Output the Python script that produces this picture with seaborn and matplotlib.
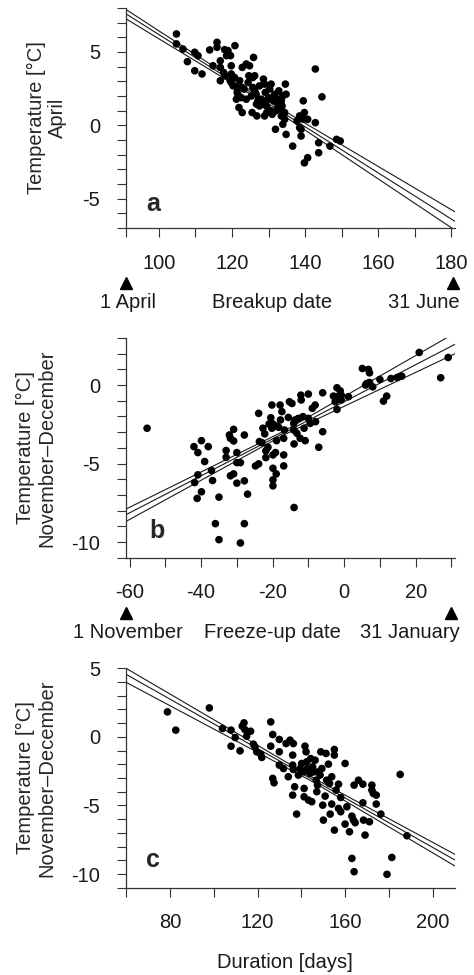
import matplotlib
matplotlib.use("Agg")
import matplotlib.pyplot as plt
import matplotlib.transforms as mtransforms
from matplotlib.ticker import MultipleLocator
import seaborn as sns

# ---------------------------------------------------------------
# data
# ---------------------------------------------------------------
# (a) breakup date (day of year) vs April temperature
breakup_day = [104.8, 104.8, 106.6, 107.8, 109.8, 110.7, 109.8, 111.8, 113.9, 114.8,
               115.9, 115.9, 116.8, 116.8, 116.8, 117.7, 118.0, 118.9, 118.5, 119.6,
               120.8, 118.1, 119.8, 119.8, 119.8, 120.3, 120.7, 121.4, 121.6, 121.2,
               122.1, 122.8, 122.8, 121.9, 122.8, 123.3, 123.9, 123.9, 124.4, 124.8,
               125.3, 125.9, 126.2, 125.7, 125.7, 126.2, 125.5, 126.7, 126.8, 127.5,
               128.0, 127.1, 128.6, 128.9, 129.1, 128.9, 129.4, 129.8, 130.1, 130.3,
               130.7, 130.7, 131.4, 131.9, 131.9, 132.5, 132.8, 133.0, 133.5, 133.7,
               133.9, 133.9, 133.9, 134.4, 134.6, 134.8, 134.8, 134.4, 136.6, 137.8,
               138.5, 138.9, 138.9, 139.5, 139.8, 139.5, 139.8, 140.7, 140.7, 142.8,
               142.8, 143.7, 143.7, 144.6, 146.8, 148.6, 149.6, 138.5, 124.6, 126.6,
               128.5, 129.5, 131.0, 131.7, 133.5, 132.6, 121.4, 122.5, 127.5, 119.5]
april_temp = [6.23, 5.55, 5.20, 4.34, 4.98, 4.75, 3.72, 3.50, 5.14, 4.06,
              5.66, 5.32, 4.40, 3.95, 3.04, 3.60, 5.16, 5.09, 4.75, 4.75,
              5.43, 3.38, 4.06, 3.50, 2.92, 2.69, 3.26, 2.58, 2.12, 1.78,
              3.04, 3.95, 2.58, 1.21, 0.87, 2.47, 4.18, 1.78, 2.92, 4.06,
              2.00, 4.63, 3.38, 2.58, 3.26, 2.35, 0.87, 1.44, 0.64, 2.69,
              1.78, 1.67, 3.15, 2.81, 2.24, 0.64, 1.32, 1.78, 1.89, 2.47,
              2.81, 0.98, 1.67, 0.98, -0.27, 1.78, 2.35, 1.10, 1.67, 1.32,
              2.00, 0.64, 0.07, 0.41, 2.81, 2.12, -0.62, 0.87, -1.42, 0.30,
              0.64, -0.27, -0.73, 1.67, 0.87, 0.41, -2.56, -2.21, 0.41, 3.84,
              0.18, -1.19, -1.87, 1.94, -1.42, -0.96, -1.07, -0.16, 3.38, 2.12,
              1.44, 0.87, 0.75, 2.12, 0.64, 1.32, 2.24, 1.89, 1.32, 3.04]
a_fit_x = [91, 128, 181]
a_fit_mid = [7.60, 1.79, -6.55]
a_fit_hi = [7.90, 1.91, -5.90]
a_fit_lo = [7.26, 1.67, -7.15]

# (b) freeze-up date (days from 1 January) vs November-December temperature
freeze_day = [-55.1, -42.0, -40.9, -39.9, -38.0, -39.0, -40.9, -41.8, -39.9, -41.1,
              -37.1, -36.8, -36.0, -35.0, -35.0, -33.0, -33.0, -32.1, -31.8, -30.9,
              -30.9, -31.8, -30.9, -30.0, -30.0, -29.0, -30.0, -27.9, -27.9, -27.0,
              -27.9, -29.0, -24.8, -23.9, -23.9, -23.7, -23.0, -22.7, -22.2, -21.9,
              -21.9, -21.3, -21.0, -20.5, -20.2, -20.2, -19.9, -19.9, -19.9, -19.9,
              -19.9, -19.2, -19.0, -18.9, -18.8, -18.3, -17.9, -17.8, -17.4, -16.9,
              -16.9, -16.9, -16.7, -15.6, -15.3, -14.6, -14.1, -14.1, -14.0, -14.0,
              -13.7, -13.2, -12.8, -12.3, -12.1, -12.0, -11.5, -11.2, -10.9, -10.0,
              -10.0, -9.5, -8.9, -8.1, -8.0, -7.1, -6.0, -6.0, -2.0, -2.0,
              -2.5, -2.0, -1.1, -0.8, -3.0, 1.2, 5.1, 6.0, 6.8, 7.1,
              7.1, 8.0, 10.0, 11.0, 11.9, 13.1, 14.9, 16.1, 21.0, 27.0,
              29.1, 6.3, -0.8]
freeze_temp = [-2.75, -3.92, -4.30, -3.54, -3.92, -4.87, -5.72, -6.21, -6.80, -7.22,
               -5.44, -6.08, -8.83, -9.85, -7.14, -4.17, -4.60, -3.18, -3.39, -2.82,
               -3.56, -5.78, -5.66, -4.30, -4.94, -4.94, -6.25, -3.18, -6.10, -6.95,
               -8.83, -10.06, -5.15, -1.80, -5.02, -3.60, -3.67, -2.75, -3.11, -4.19,
               -4.62, -3.96, -2.48, -2.08, -1.27, -2.75, -2.48, -4.45, -5.30, -6.04,
               -6.42, -4.30, -5.66, -3.54, -2.61, -2.69, -1.27, -2.22, -1.69, -3.39,
               -4.45, -5.15, -2.86, -2.06, -1.06, -1.17, -2.44, -2.86, -3.75, -7.80,
               -2.22, -3.07, -2.12, -3.39, -0.64, -0.95, -2.01, -2.75, -3.54, -0.57,
               -2.12, -2.44, -1.48, -1.27, -2.33, -3.96, -0.49, -2.97, -0.17, -0.74,
               -1.06, -1.55, -0.36, -0.95, -0.70, -0.74, 1.06, 0.00, 1.00, 0.78,
               0.17, -0.11, 0.36, -1.02, -0.70, 0.42, 0.49, 0.57, 2.08, 0.47,
               1.76, 0.10, -0.64]
b_fit_x = [-61, -17, 31]
b_fit_mid = [-8.26, -3.07, 2.60]
b_fit_hi = [-7.90, -2.95, 3.32]
b_fit_lo = [-8.69, -3.19, 2.00]

# (c) ice duration (days) vs November-December temperature
duration = [78.9, 82.7, 98.0, 104.0, 107.9, 107.9, 109.8, 112.0, 113.0, 113.8,
            114.2, 115.0, 116.8, 118.1, 118.8, 119.6, 121.4, 121.9, 126.0, 126.0,
            126.9, 126.9, 127.5, 129.9, 129.9, 129.9, 131.8, 133.0, 134.0, 134.8,
            136.0, 136.3, 136.0, 136.3, 136.9, 136.0, 137.8, 138.6, 139.4, 140.1,
            140.9, 141.2, 141.2, 141.6, 142.1, 142.4, 142.7, 143.2, 143.9, 144.2,
            144.7, 145.1, 145.8, 146.2, 146.7, 147.0, 147.3, 147.7, 148.5, 148.8,
            149.3, 149.7, 150.0, 150.8, 151.2, 151.5, 152.3, 152.8, 153.1, 153.8,
            153.8, 155.0, 155.0, 155.0, 155.8, 156.9, 156.9, 157.9, 157.9, 159.9,
            159.9, 160.7, 161.9, 163.0, 163.0, 163.7, 164.0, 164.0, 164.5, 166.0,
            168.0, 168.0, 168.3, 169.0, 171.0, 172.1, 172.1, 172.8, 174.1, 174.1,
            176.2, 179.0, 181.2, 185.0, 188.1]
duration_temp = [1.82, 0.49, 2.11, 0.61, 0.49, -0.68, -0.05, -1.02, 0.78, 1.02,
                 0.53, 0.05, 0.41, -0.53, -0.73, -1.09, -1.26, -1.50, 1.09, -0.68,
                 0.17, -3.03, -3.35, -0.19, -1.09, -2.06, -2.31, -0.49, -2.91, -0.24,
                 -1.33, -0.49, -2.06, -2.38, -3.64, -4.25, -5.63, -2.79, -2.31, -1.94,
                 -2.55, -3.76, -4.37, -0.68, -1.09, -1.82, -2.31, -4.61, -2.67, -1.58,
                 -4.73, -2.18, -2.55, -1.70, -3.16, -4.00, -3.52, -2.55, -2.79, -1.09,
                 -2.31, -4.98, -6.07, -4.32, -1.21, -3.16, -1.99, -3.40, -5.63, -4.90,
                 -2.91, -0.92, -1.33, -6.80, -3.88, -3.45, -5.22, -5.46, -4.42, -1.94,
                 -6.36, -5.10, -6.92, -5.78, -8.86, -6.07, -9.83, -3.52, -6.26, -3.16,
                 -3.45, -4.81, -6.07, -7.16, -6.19, -3.52, -3.88, -4.13, -4.25, -4.90,
                 -5.63, -10.02, -8.79, -2.74, -7.21]
c_fit_x = [60, 145, 210]
c_fit_mid = [4.56, -3.11, -8.98]
c_fit_hi = [5.00, -2.96, -8.57]
c_fit_lo = [3.98, -3.26, -9.42]

# ---------------------------------------------------------------
sns.set_style("ticks")
plt.rcParams["font.family"] = ["Liberation Sans", "DejaVu Sans"]
plt.rcParams["font.size"] = 14.5
plt.rcParams["axes.unicode_minus"] = False

FG = "#1a1a1a"


def draw_panel(ax, x, y, fit_x, fit_mid, fit_hi, fit_lo):
    for fy in (fit_hi, fit_mid, fit_lo):
        sns.lineplot(x=fit_x, y=fy, ax=ax, color=FG, lw=0.8,
                     estimator=None, sort=False)
    sns.scatterplot(x=x, y=y, ax=ax, color="black", s=30,
                    edgecolor="none", linewidth=0, zorder=3)
    sns.despine(ax=ax)
    for sp in ("left", "bottom"):
        ax.spines[sp].set_linewidth(0.9)
        ax.spines[sp].set_color("#333333")
    ax.tick_params(which="both", direction="out", length=6.5, width=0.8,
                   color="#333333", pad=12, labelsize=14.5, labelcolor=FG)
    ax.yaxis.set_minor_locator(MultipleLocator(1))


def date_labels(ax, tri_x, left_txt, mid_txt, right_txt):
    trans = mtransforms.blended_transform_factory(ax.transData, ax.transAxes)
    ax.plot(tri_x, [-0.25, -0.25], ls="none", marker="^", ms=9,
            color="black", transform=trans, clip_on=False)
    ax.text(0.006, -0.34, left_txt, transform=ax.transAxes,
            ha="center", va="center", color=FG)
    ax.text(0.444, -0.34, mid_txt, transform=ax.transAxes,
            ha="center", va="center", color=FG)
    ax.text(1.015, -0.34, right_txt, transform=ax.transAxes,
            ha="right", va="center", color=FG)


fig = plt.figure(figsize=(4.74, 9.75), dpi=100)
ax_a = fig.add_axes([0.2658, 0.7662, 0.6941, 0.2256])
ax_b = fig.add_axes([0.2658, 0.4280, 0.6941, 0.2253])
ax_c = fig.add_axes([0.2658, 0.0895, 0.6941, 0.2251])

# panel a
draw_panel(ax_a, breakup_day, april_temp, a_fit_x, a_fit_mid, a_fit_hi, a_fit_lo)
ax_a.set_xlim(91, 181)
ax_a.set_ylim(-7, 8)
ax_a.set_xticks([100, 120, 140, 160, 180])
ax_a.set_xticks([91, 110, 130, 150, 170], minor=True)
ax_a.set_yticks([-5, 0, 5])
ax_a.set_ylabel("Temperature [°C]\nApril", linespacing=1.15, labelpad=11)
ax_a.text(98.5, -5.4, "a", fontsize=18, fontweight="bold", ha="center", va="center")
date_labels(ax_a, [91, 180.5], "1 April", "Breakup date", "31 June")

# panel b
draw_panel(ax_b, freeze_day, freeze_temp, b_fit_x, b_fit_mid, b_fit_hi, b_fit_lo)
ax_b.set_xlim(-61, 31)
ax_b.set_ylim(-11, 3)
ax_b.set_xticks([-60, -40, -20, 0, 20])
ax_b.set_xticks([-50, -30, -10, 10, 30], minor=True)
ax_b.set_yticks([-10, -5, 0])
ax_b.set_ylabel("Temperature [°C]\nNovember–December", linespacing=1.15, labelpad=11)
ax_b.text(-52.3, -9.3, "b", fontsize=18, fontweight="bold", ha="center", va="center")
date_labels(ax_b, [-61, 30], "1 November", "Freeze-up date", "31 January")

# panel c
draw_panel(ax_c, duration, duration_temp, c_fit_x, c_fit_mid, c_fit_hi, c_fit_lo)
ax_c.set_xlim(60, 210)
ax_c.set_ylim(-11, 5)
ax_c.set_xticks([80, 120, 160, 200])
ax_c.set_xticks([60, 100, 140, 180], minor=True)
ax_c.set_yticks([-10, -5, 0, 5])
ax_c.set_ylabel("Temperature [°C]\nNovember–December", linespacing=1.15, labelpad=11)
ax_c.text(72.5, -9.0, "c", fontsize=18, fontweight="bold", ha="center", va="center")
ax_c.text(0.483, -0.34, "Duration [days]", transform=ax_c.transAxes,
          ha="center", va="center", color=FG)

fig.savefig("out.png", dpi=100, facecolor="white")
